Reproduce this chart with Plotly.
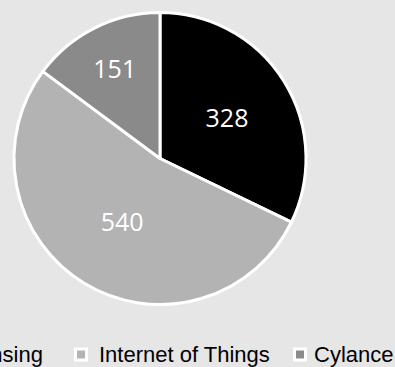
import plotly.graph_objects as go

labels = ["Licensing", "Internet of Things", "Cylance"]
values = [328, 540, 151]
colors = ["#000000", "#b3b3b3", "#8a8a8a"]

W, H = 395, 367
BG = "#e6e6e6"

fig = go.Figure()
fig.add_trace(go.Pie(
    labels=labels,
    values=values,
    sort=False,
    direction="clockwise",
    rotation=0,
    marker=dict(colors=colors, line=dict(color="white", width=3)),
    textinfo="value",
    textposition="inside",
    insidetextorientation="horizontal",
    textfont=dict(family="Open Sans", size=25, color="white"),
    domain=dict(x=[14 / W, 306 / W], y=[(H - 304.5) / H, (H - 12.5) / H]),
    showlegend=False,
    hoverinfo="label+value",
))

# legend drawn as text + swatches (single-row legend clipped at left edge like the original)
legend_swatch_cx = [-60, 81, 300]   # swatch centres, px
legend_text_x = [45, 97, 312]       # text end (first) / text starts (others), px
legend_anchor = ["right", "left", "left"]
legend_y = 354.5
shapes = []
annotations = []
for lab, col, cx, tx, anc in zip(labels, colors, legend_swatch_cx, legend_text_x, legend_anchor):
    shapes.append(dict(
        type="rect", xref="paper", yref="paper",
        x0=(cx - 5.5) / W, x1=(cx + 5.5) / W,
        y0=(H - legend_y - 5.5) / H, y1=(H - legend_y + 5.5) / H,
        fillcolor=col, line=dict(color="white", width=3),
    ))
    annotations.append(dict(
        text=lab, xref="paper", yref="paper",
        x=tx / W, y=(H - legend_y) / H,
        xanchor=anc, yanchor="middle", showarrow=False,
        font=dict(family="Liberation Sans, Arial", size=22, color="#000000"),
    ))

fig.update_layout(
    width=W, height=H,
    margin=dict(l=0, r=0, t=0, b=0, autoexpand=False),
    paper_bgcolor=BG,
    plot_bgcolor=BG,
    showlegend=False,
    shapes=shapes,
    annotations=annotations,
)

fig.write_html("out.html")
